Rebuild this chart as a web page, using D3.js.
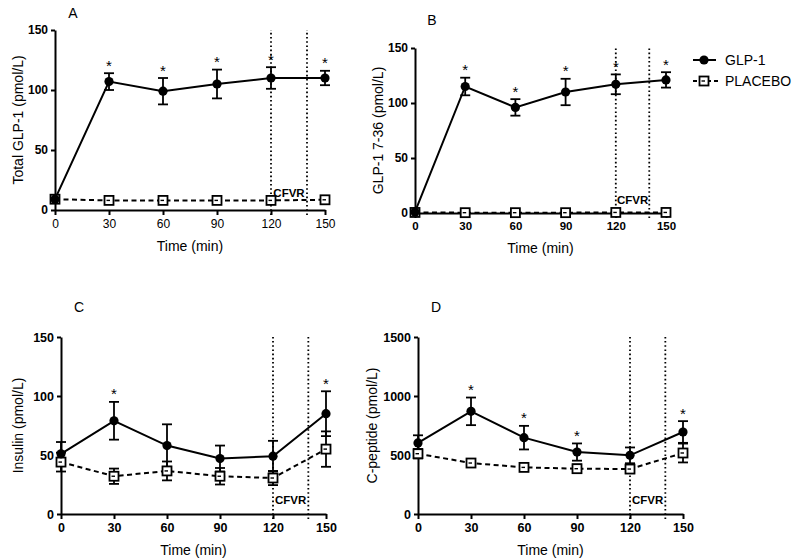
<!DOCTYPE html>
<html><head><meta charset="utf-8">
<script src="https://cdn.jsdelivr.net/npm/d3@7"></script>
<style>body{margin:0;background:#fff}svg{display:block}text{font-family:"Liberation Sans",Arial,sans-serif}</style>
</head><body>
<svg id="c" width="795" height="559"></svg>
<script>
const time = [0, 30, 60, 90, 120, 150];
const xTicks = [0, 30, 60, 90, 120, 150];
const cfvrStart = 120, cfvrEnd = 140;

const glpA = [9, 107, 99, 105, 110, 110];
const glpAErr = [0, 7, 11, 12, 9, 6];
const plaA = [9, 8, 8, 8, 8, 8.5];
const plaAErr = [0, 0, 0, 0, 0, 0];
const sigA = [30, 60, 90, 120, 150];

const glpB = [1, 115, 96, 110, 117, 121];
const glpBErr = [0, 8, 7.5, 12, 9, 7];
const plaB = [0.5, 0.3, 0.3, 0.3, 0.5, 0.5];
const plaBErr = [0, 0, 0, 0, 0, 0];
const sigB = [30, 60, 90, 120, 150];

const glpC = [51, 79, 58, 47, 49, 85];
const glpCErr = [10, 16, 18, 11, 13, 19];
const plaC = [44, 32, 36.5, 32, 30.5, 55];
const plaCErr = [8, 6.5, 8, 7, 6, 15];
const sigC = [30, 150];

const glpD = [602, 870, 647, 525, 497, 695];
const glpDErr = [65, 117, 100, 73, 67, 92];
const plaD = [511, 432, 395, 384, 381, 517];
const plaDErr = [40, 30, 30, 35, 35, 80];
const sigD = [30, 60, 90, 150];

const yTicksSmall = [0, 50, 100, 150];
const yTicksBig = [0, 500, 1000, 1500];

const svg = d3.select("#c");

function panel(o) {
  const g = svg.append("g");
  const x = d3.scaleLinear().domain([0, 150]).range([o.x0, o.x1]);
  const y = d3.scaleLinear().domain([0, o.ymax]).range([o.yb, o.yt]);

  [cfvrStart, cfvrEnd].forEach(t => {
    g.append("line").attr("x1", x(t)).attr("x2", x(t))
      .attr("y1", o.yb + 5).attr("y2", o.yt)
      .attr("stroke", "#000").attr("stroke-width", 1.8)
      .attr("stroke-dasharray", "1.6,2.6");
  });
  g.append("text").attr("x", x((cfvrStart + cfvrEnd) / 2)).attr("y", o.cfvrY)
    .attr("text-anchor", "middle").attr("font-size", 11.5).attr("font-weight", "bold")
    .text("CFVR");

  const xa = g.append("g").attr("transform", `translate(0,${o.yb})`)
    .call(d3.axisBottom(x).tickValues(xTicks).tickSize(5).tickSizeOuter(0).tickPadding(4));
  xa.selectAll("text").attr("font-size", o.xfs).attr("font-weight", o.xBold ? "bold" : "normal")
    .attr("font-family", '"Liberation Sans",Arial,sans-serif').attr("fill", "#000");
  const ya = g.append("g").attr("transform", `translate(${o.x0},0)`)
    .call(d3.axisLeft(y).tickValues(o.yTicks).tickFormat(d3.format("d")).tickSize(4).tickSizeOuter(0).tickPadding(3));
  ya.selectAll("text").attr("font-size", o.yfs).attr("font-weight", "bold")
    .attr("font-family", '"Liberation Sans",Arial,sans-serif').attr("fill", "#000");
  g.selectAll(".domain").attr("stroke", "#000").attr("stroke-width", 2);
  g.selectAll(".tick line").attr("stroke", "#000").attr("stroke-width", 2);

  function errBars(vals, errs) {
    vals.forEach((v, i) => {
      if (!errs[i]) return;
      const cx = x(time[i]), t = y(v + errs[i]), b = y(Math.max(0, v - errs[i]));
      g.append("line").attr("x1", cx).attr("x2", cx).attr("y1", t).attr("y2", b)
        .attr("stroke", "#000").attr("stroke-width", 1.8);
      [t, b].forEach(yy => g.append("line").attr("x1", cx - 5).attr("x2", cx + 5)
        .attr("y1", yy).attr("y2", yy).attr("stroke", "#000").attr("stroke-width", 1.8));
    });
  }
  errBars(o.pla, o.plaErr);
  errBars(o.glp, o.glpErr);

  const line = d3.line().x((d, i) => x(time[i])).y(d => y(d));
  g.append("path").datum(o.pla).attr("d", line).attr("fill", "none")
    .attr("stroke", "#000").attr("stroke-width", 2).attr("stroke-dasharray", "5,3.5");
  g.append("path").datum(o.glp).attr("d", line).attr("fill", "none")
    .attr("stroke", "#000").attr("stroke-width", 2);

  o.pla.forEach((v, i) => {
    g.append("rect").attr("x", x(time[i]) - 4.5).attr("y", y(v) - 4.5)
      .attr("width", 9).attr("height", 9).attr("fill", "#fff")
      .attr("stroke", "#000").attr("stroke-width", 1.8);
    g.append("line").attr("x1", x(time[i]) - 2.5).attr("x2", x(time[i]) + 1)
      .attr("y1", y(v)).attr("y2", y(v)).attr("stroke", "#000").attr("stroke-width", 1.4);
  });
  o.glp.forEach((v, i) => {
    g.append("circle").attr("cx", x(time[i])).attr("cy", y(v)).attr("r", 4.6).attr("fill", "#000");
  });

  o.sig.forEach(t => {
    const i = time.indexOf(t);
    g.append("text").attr("x", x(t)).attr("y", y(o.glp[i] + o.glpErr[i]) - 2.5)
      .attr("text-anchor", "middle").attr("font-size", 15).text("*");
  });

  g.append("text").attr("transform", `translate(${o.ylx},${(o.yt + o.yb) / 2}) rotate(-90)`)
    .attr("text-anchor", "middle").attr("dominant-baseline", "central")
    .attr("font-size", 14).text(o.ylabel);
  g.append("text").attr("x", (o.x0 + o.x1) / 2).attr("y", o.xly)
    .attr("text-anchor", "middle").attr("font-size", 14).text("Time (min)");
  g.append("text").attr("x", o.lx).attr("y", o.ly)
    .attr("text-anchor", "middle").attr("font-size", 14).text(o.letter);
}

panel({x0: 55, x1: 325, yt: 30, yb: 210, ymax: 150, yTicks: yTicksSmall,
  glp: glpA, glpErr: glpAErr, pla: plaA, plaErr: plaAErr, sig: sigA,
  ylabel: "Total GLP-1 (pmol/L)", ylx: 18, xly: 251, letter: "A", lx: 73, ly: 18,
  cfvrY: 197, xfs: 12, yfs: 12, xBold: false});
panel({x0: 415, x1: 666, yt: 48, yb: 213, ymax: 150, yTicks: yTicksSmall,
  glp: glpB, glpErr: glpBErr, pla: plaB, plaErr: plaBErr, sig: sigB,
  ylabel: "GLP-1 7-36 (pmol/L)", ylx: 378, xly: 253, letter: "B", lx: 432, ly: 25,
  cfvrY: 204, xfs: 11.5, yfs: 12, xBold: true});
panel({x0: 61, x1: 326, yt: 337, yb: 514, ymax: 150, yTicks: yTicksSmall,
  glp: glpC, glpErr: glpCErr, pla: plaC, plaErr: plaCErr, sig: sigC,
  ylabel: "Insulin (pmol/L)", ylx: 18, xly: 555, letter: "C", lx: 79, ly: 312,
  cfvrY: 504, xfs: 12.5, yfs: 12.5, xBold: true});
panel({x0: 418, x1: 683, yt: 337, yb: 514, ymax: 1500, yTicks: yTicksBig,
  glp: glpD, glpErr: glpDErr, pla: plaD, plaErr: plaDErr, sig: sigD,
  ylabel: "C-peptide (pmol/L)", ylx: 372, xly: 555, letter: "D", lx: 436, ly: 312,
  cfvrY: 504, xfs: 12.5, yfs: 12.5, xBold: true});

const lg = svg.append("g");
lg.append("line").attr("x1", 693).attr("x2", 716).attr("y1", 60).attr("y2", 60)
  .attr("stroke", "#000").attr("stroke-width", 2);
lg.append("circle").attr("cx", 704).attr("cy", 60).attr("r", 4.6).attr("fill", "#000");
lg.append("text").attr("x", 725).attr("y", 65).attr("font-size", 14).text("GLP-1");
lg.append("line").attr("x1", 693).attr("x2", 718).attr("y1", 81).attr("y2", 81)
  .attr("stroke", "#000").attr("stroke-width", 2).attr("stroke-dasharray", "4,3");
lg.append("rect").attr("x", 699.5).attr("y", 76.5).attr("width", 9).attr("height", 9)
  .attr("fill", "#fff").attr("stroke", "#000").attr("stroke-width", 1.8);
lg.append("line").attr("x1", 701.5).attr("x2", 705).attr("y1", 81).attr("y2", 81)
  .attr("stroke", "#000").attr("stroke-width", 1.4);
lg.append("text").attr("x", 725).attr("y", 86).attr("font-size", 14).text("PLACEBO");
</script>
</body></html>
